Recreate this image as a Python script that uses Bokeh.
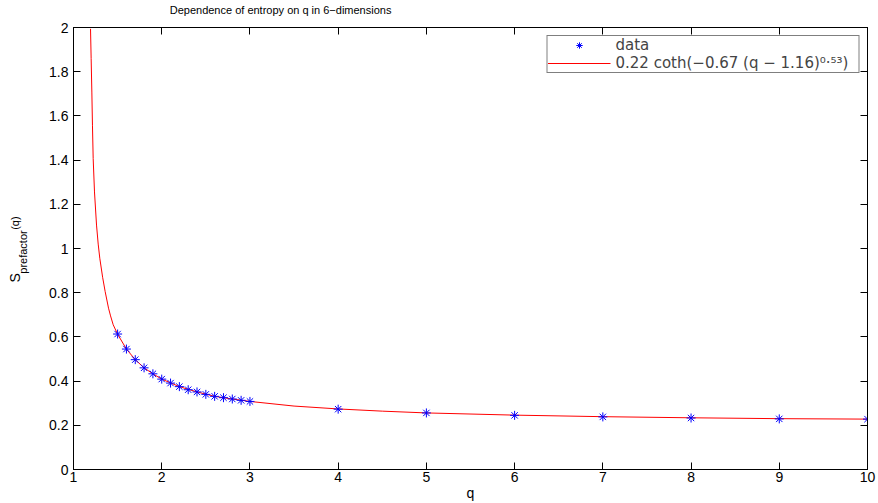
import math
from bokeh.plotting import figure
from bokeh.models import Range1d, LinearAxis, FixedTicker, Label, Legend, LegendItem
from bokeh.embed import file_html
from bokeh.resources import INLINE

# ---- data ----
q_data = [1.5, 1.6, 1.7, 1.8, 1.9, 2.0, 2.1, 2.2, 2.3, 2.4, 2.5, 2.6, 2.7, 2.8, 2.9, 3.0,
          4, 5, 6, 7, 8, 9, 10]
s_data = [0.613, 0.545, 0.497, 0.460, 0.433, 0.409, 0.391, 0.375, 0.361, 0.351, 0.340,
          0.331, 0.325, 0.319, 0.313, 0.308, 0.273, 0.256, 0.245, 0.238, 0.233, 0.229, 0.228]

# fitted curve
q_fit = [1.193, 1.200, 1.208, 1.215, 1.223, 1.238, 1.261, 1.280, 1.298, 1.330, 1.359, 1.397,
         1.420, 1.450, 1.5, 1.6, 1.7, 1.8, 1.9, 2.0, 2.2, 2.4, 2.6, 2.8, 3.0, 3.5, 4, 4.5,
         5, 6, 7, 8, 9, 10]
s_fit = [1.994, 1.859, 1.708, 1.558, 1.407, 1.256, 1.106, 1.020, 0.956, 0.870, 0.805, 0.730,
         0.695, 0.655, 0.612, 0.545, 0.497, 0.460, 0.433, 0.409, 0.375, 0.351, 0.331, 0.319,
         0.308, 0.287, 0.274, 0.264, 0.256, 0.246, 0.239, 0.234, 0.230, 0.228]

x_ticks = [1, 2, 3, 4, 5, 6, 7, 8, 9, 10]
x_tick_labels = ["1", "2", "3", "4", "5", "6", "7", "8", "9", "10"]
y_ticks = [0, 0.2, 0.4, 0.6, 0.8, 1, 1.2, 1.4, 1.6, 1.8, 2]
y_tick_labels = ["0", "0.2", "0.4", "0.6", "0.8", "1", "1.2", "1.4", "1.6", "1.8", "2"]

title_text = "Dependence of entropy on q in 6\u2212dimensions"
x_label = "q"
legend_data = "data"
legend_fit = "0.22 coth(\u22120.67 (q \u2212 1.16)\u2070\u00b7\u2075\u00b3)"

FONT = "Liberation Sans"
LEGEND_FONT = "DejaVu Sans"

p = figure(width=878, height=503, output_backend="svg", toolbar_location=None, title=None,
           x_range=Range1d(1, 10), y_range=Range1d(0, 2),
           min_border_left=73, min_border_right=11, min_border_top=27, min_border_bottom=33)
p.grid.visible = False
p.outline_line_color = "black"
p.background_fill_color = "white"
p.border_fill_color = "white"


def style_axis(ax, ticks, labels, show_labels=True):
    ax.ticker = FixedTicker(ticks=ticks)
    ax.major_tick_in = 7
    ax.major_tick_out = 0
    ax.minor_tick_in = 0
    ax.minor_tick_out = 0
    ax.axis_line_color = "black"
    ax.major_tick_line_color = "black"
    ax.major_label_text_font = FONT
    ax.major_label_text_font_size = "14px"
    ax.major_label_text_color = "black"
    if show_labels:
        ax.major_label_overrides = {t: l for t, l in zip(ticks, labels)}
        ax.major_label_standoff = 5
    else:
        ax.major_label_text_color = None
        ax.major_label_text_font_size = "0px"
        ax.major_label_standoff = 0


style_axis(p.xaxis[0], x_ticks, x_tick_labels)
style_axis(p.yaxis[0], y_ticks, y_tick_labels)
p.xaxis[0].major_label_standoff = 2
p.xaxis[0].axis_label = x_label
p.xaxis[0].axis_label_standoff = 0
p.xaxis[0].axis_label_text_font = FONT
p.xaxis[0].axis_label_text_font_size = "14px"
p.xaxis[0].axis_label_text_font_style = "normal"
p.xaxis[0].axis_label_text_color = "black"

top_ax = LinearAxis()
right_ax = LinearAxis()
style_axis(top_ax, x_ticks, x_tick_labels, show_labels=False)
style_axis(right_ax, y_ticks, y_tick_labels, show_labels=False)
p.add_layout(top_ax, "above")
p.add_layout(right_ax, "right")

ln = p.line(q_fit, s_fit, line_color="#ff0000", line_width=1)
sc = p.scatter(q_data, s_data, marker="asterisk", size=9, line_color="#0000ff", line_width=1)

legend = Legend(items=[LegendItem(label=legend_data, renderers=[sc]),
                       LegendItem(label=legend_fit + "\u00a0" * 2, renderers=[ln])],
                location="top_right", margin=8, padding=0, spacing=-5, label_standoff=5,
                glyph_width=63, glyph_height=16, label_height=16,
                label_text_font=LEGEND_FONT, label_text_font_size="15px",
                border_line_color="black", border_line_width=1,
                background_fill_color="white", background_fill_alpha=1.0)
p.add_layout(legend)

# title, placed in the top side panel
p.add_layout(Label(x=3.347, y=2.077, text=title_text, text_font=FONT, text_font_size="11px",
                   text_color="black", text_align="center", text_baseline="middle"), "above")

# y label S_prefactor(q), placed in the left side panel
p.add_layout(Label(x=0.342, y=0.867, text="S", text_font=FONT, text_font_size="14px",
                   text_color="black", angle=math.pi / 2, text_align="center",
                   text_baseline="middle"), "left")
p.add_layout(Label(x=0.425, y=0.984, text="prefactor", text_font=FONT, text_font_size="11px",
                   text_color="black", angle=math.pi / 2, text_align="center",
                   text_baseline="middle"), "left")
p.add_layout(Label(x=0.342, y=1.115, text="(q)", text_font=FONT, text_font_size="11px",
                   text_color="black", angle=math.pi / 2, text_align="center",
                   text_baseline="middle"), "left")

open("out.html", "w").write(file_html(p, INLINE))
